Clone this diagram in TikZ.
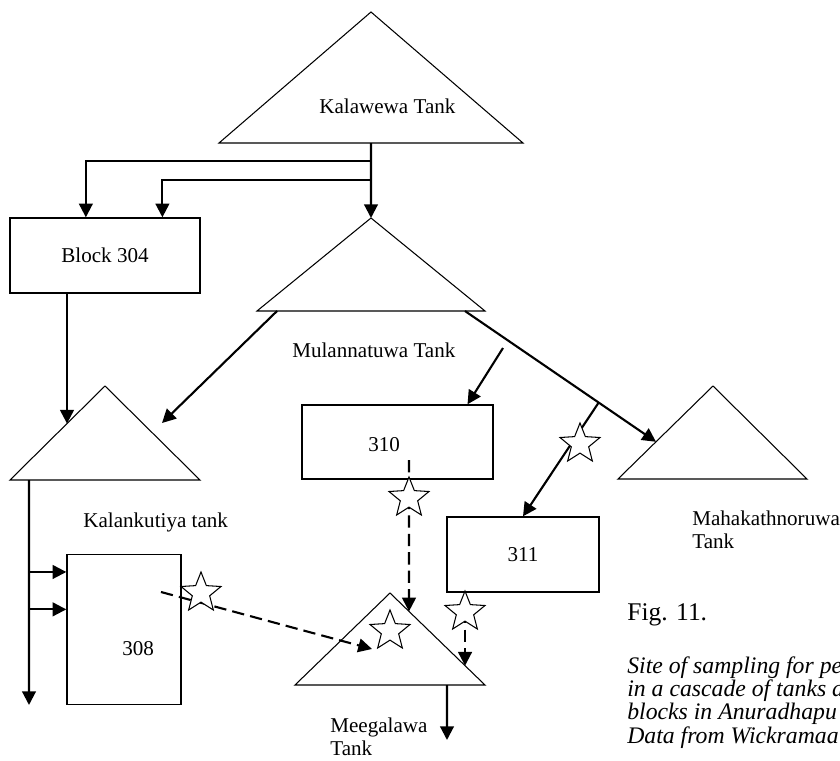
\documentclass[tikz,border=0pt]{standalone}
\usepackage{fontspec}
\setmainfont{Liberation Serif}
\usetikzlibrary{arrows.meta,calc,shapes.geometric}

\begin{document}
\begin{tikzpicture}[
  x=0.02cm,y=-0.02cm,
  tank/.style={draw, line width=0.6pt, line join=miter},
  blockbox/.style={draw, line width=0.8pt, inner sep=0pt, font=\fontsize{12}{12.8}\selectfont},
  lbl/.style={anchor=base west, inner sep=0pt, align=left, font=\fontsize{12}{12.8}\selectfont},
  flow/.style={-{Triangle[length=7.8pt,width=7.8pt]}, line width=1.2pt},
  sample/.style={-{Triangle[length=7.8pt,width=7.8pt]}, line width=1.2pt, dash pattern=on 7pt off 3.5pt},
  site/.style={star, star points=5, star point ratio=2.3, minimum size=0.84cm, inner sep=0pt, draw, fill=white, line width=0.6pt}
]
\useasboundingbox (0,0) rectangle (840,761);

% tanks
\coordinate (kal-top) at (371,12);
\coordinate (kal-left) at (219,143);
\coordinate (kal-right) at (523,143);
\draw[tank] (kal-top) -- (kal-left) -- (kal-right) -- cycle;

\coordinate (mul-top) at (371,218);
\coordinate (mul-left) at (257,311);
\coordinate (mul-right) at (485,311);
\draw[tank] (mul-top) -- (mul-left) -- (mul-right) -- cycle;

\coordinate (klk-top) at (105,386);
\coordinate (klk-left) at (10,480);
\coordinate (klk-right) at (200,480);
\draw[tank] (klk-top) -- (klk-left) -- (klk-right) -- cycle;

\coordinate (mah-top) at (713,386);
\coordinate (mah-left) at (618,479);
\coordinate (mah-right) at (807,479);
\draw[tank] (mah-top) -- (mah-left) -- (mah-right) -- cycle;

\coordinate (meg-top) at (390,593);
\coordinate (meg-left) at (295,685);
\coordinate (meg-right) at (485,685);
\draw[tank] (meg-top) -- (meg-left) -- (meg-right) -- cycle;

% blocks
\node[blockbox, minimum width=3.8cm, minimum height=1.5cm] (b304) at (105,255.5) {Block 304};
\node[blockbox, minimum width=3.82cm, minimum height=1.48cm] (b310) at (397.5,442) {};
\node[blockbox, minimum width=3.04cm, minimum height=1.5cm] (b311) at (523,554.5) {311};
\node[blockbox, minimum width=2.28cm, minimum height=3cm] (b308) at (124,629.5) {};
\node[lbl] (t310) at (368,451) {310};
\node[lbl] (t308) at (122,655) {308};

% names (multi-line nodes sit on their last baseline)
\node[lbl] (kal-name) at (319,113) {Kalawewa Tank};
\node[lbl] (mul-name) at (292,357) {Mulannatuwa Tank};
\node[lbl] (klk-name) at (83,527) {Kalankutiya tank};
\node[lbl] (mah-name) at (692,548) {Mahakathnoruwa\\Tank};
\node[lbl] (meg-name) at (330,755) {Meegalawa\\Tank};
\node[lbl, font=\fontsize{14.5}{16}\selectfont] (fig) at (627,620) {Fig. 11.};
\node[lbl, font=\fontsize{13.5}{13.1}\selectfont\itshape] (caption) at (627,743)
  {Site of sampling for pe\\in a cascade of tanks a\\blocks in Anuradhapu\\Data from Wickramaa};

% water flow
\coordinate (kal-out) at ($(kal-left)!0.5!(kal-right)$);
\draw[flow] (kal-out) -- (mul-top);
\coordinate (j1) at ($(kal-out)+(0,18)$);
\coordinate (j2) at ($(kal-out)+(0,37)$);
\draw[flow] (j1) -| ($(b304.north west)!0.4!(b304.north east)$);
\draw[flow] (j2) -| ($(b304.north west)!0.8!(b304.north east)$);

\coordinate (klk-in) at ($(klk-left)!0.6!(klk-top)$);
\draw[flow] (b304.south -| klk-in) -- (klk-in);

\coordinate (mul-l) at ($(mul-left)!0.088!(mul-right)$);
\coordinate (klk-in2) at (162,423);
\draw[flow] (mul-l) -- (klk-in2);

\coordinate (in310) at (503,348);
\draw[flow] (in310) -- ($(b310.north west)!0.864!(b310.north east)$);

\coordinate (mul-r) at ($(mul-left)!0.912!(mul-right)$);
\coordinate (mah-in) at ($(mah-left)!0.4!(mah-top)$);
\draw[flow] (mul-r) -- (mah-in);
\coordinate (j3) at ($(mul-r)!0.7!(mah-in)$);
\draw[flow] (j3) -- (b311.north);

\coordinate (klk-out) at ($(klk-left)!0.1!(klk-right)$);
\coordinate (klk-end) at (29,705);
\draw[flow] (klk-out) -- (klk-end);
\coordinate (w1) at ($(b308.north west)!0.12!(b308.south west)$);
\coordinate (w2) at ($(b308.north west)!0.367!(b308.south west)$);
\draw[flow] (klk-out |- w1) -- (w1);
\draw[flow] (klk-out |- w2) -- (w2);

\coordinate (meg-out) at ($(meg-left)!0.8!(meg-right)$);
\coordinate (meg-end) at (447,740);
\draw[flow] (meg-out) -- (meg-end);

% sampling
\coordinate (f308) at (161,592);
\coordinate (meg-in1) at (372,649);
\draw[sample] (f308) -- (meg-in1);
\coordinate (f310) at (409,460);
\coordinate (meg-in2) at ($(meg-top)!0.2!(meg-right)$);
\draw[sample] (f310) -- (meg-in2);
\coordinate (meg-in3) at ($(meg-top)!0.79!(meg-right)$);
\draw[sample] (b311.south -| meg-in3) -- (meg-in3);

\node[site] (s308) at (201,593) {};
\node[site] (s310) at (409,498) {};
\node[site] (s311) at (465,612) {};
\node[site] (s311in) at (580,444) {};
\node[site] (smeg) at (390,631) {};
\end{tikzpicture}
\end{document}
